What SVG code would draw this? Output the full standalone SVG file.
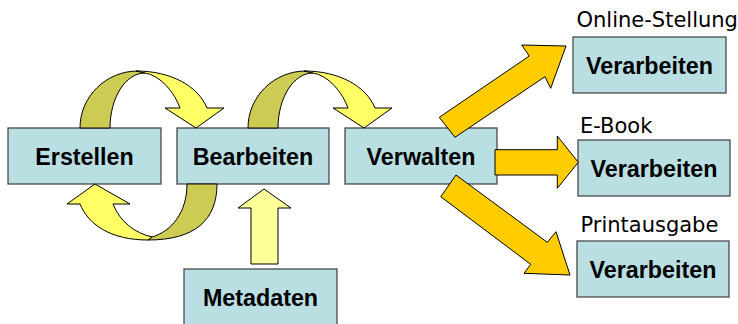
<svg xmlns="http://www.w3.org/2000/svg" width="738" height="324" viewBox="0 0 738 324">
<style>
.box{fill:#B9DFE2;stroke:#4A4A4A;stroke-width:1.3}
.lbl{font-family:"Liberation Sans",Arial,sans-serif;font-weight:bold;font-size:23.3px;fill:#000;text-anchor:middle}
.cap{font-family:"DejaVu Sans",Verdana,sans-serif;font-size:21px;fill:#000}
.dark{fill:#CCCC55;stroke:#000;stroke-width:1}
.yel{fill:#FFFF66;stroke:#000;stroke-width:1}
.lyel{fill:#FFFF99;stroke:#000;stroke-width:1}
.org{fill:#FFCC00;stroke:#000;stroke-width:1}
</style>
<rect width="738" height="324" fill="#fff"/>
<g id="erstellen"><rect class="box" x="8" y="128" width="153" height="56"/><text class="lbl" x="84.5" y="164.5">Erstellen</text></g>
<g id="bearbeiten"><rect class="box" x="177" y="128" width="152" height="56"/><text class="lbl" x="253" y="164.5">Bearbeiten</text></g>
<g id="verwalten"><rect class="box" x="345" y="128" width="152" height="56"/><text class="lbl" x="421" y="164.5">Verwalten</text></g>
<g id="metadaten"><rect class="box" x="184" y="269" width="153" height="56"/><text class="lbl" x="260.5" y="306">Metadaten</text></g>
<g id="online"><text class="cap" x="576.5" y="26.7">Online-Stellung</text><rect class="box" x="573" y="37" width="153" height="56"/><text class="lbl" x="649.5" y="73.5">Verarbeiten</text></g>
<g id="ebook"><text class="cap" x="580" y="133.3">E-Book</text><rect class="box" x="578" y="140" width="152" height="56"/><text class="lbl" x="654" y="176.8">Verarbeiten</text></g>
<g id="print"><text class="cap" x="580.5" y="232.3">Printausgabe</text><rect class="box" x="577" y="241" width="152" height="56"/><text class="lbl" x="653" y="277.8">Verarbeiten</text></g>
<g id="connectors">
<g id="loop1">
<path class="dark" d="M80,128 C80,96.5 106,71 138,71 L145,73 C125.7,73 110,97.6 110,128 Z"/>
<path class="yel" d="M136,71 C171,71 198,86 207,108 L224,108 L196,128 L165,108 L180,108 C174,92 161,76 145,73 Z"/>
</g>
<g id="loop2" transform="translate(168,0)">
<path class="dark" d="M80,128 C80,96.5 106,71 138,71 L145,73 C125.7,73 110,97.6 110,128 Z"/>
<path class="yel" d="M136,71 C171,71 198,86 207,108 L224,108 L196,128 L165,108 L180,108 C174,92 161,76 145,73 Z"/>
</g>
<g id="loop3">
<path class="dark" d="M217,184 C217,220 195,240 148,240 L152,237 C172,231 187,212 187,184 Z"/>
<path class="yel" d="M148,240 C110,240 88,224 80,204 L67,204 L95,184 L130,204 L113,204 C120,222 135,233 152,237 Z"/>
</g>
<polygon class="lyel" points="251,264 251,208 238,208 264,189 291,208 278,208 278,264"/>
<polygon class="org" points="439.3,117.3 529.3,56 521.7,45 566,46 550.7,88.3 545,76.7 455,137.3"/>
<polygon class="org" points="495,149.7 557.3,149.7 557.3,136 578.3,162.3 557.3,188.3 557.3,175 495,175"/>
<polygon class="org" points="456,175 547.3,242.3 556,231.7 570,275 524,273.3 530.7,264.3 440.7,196.7"/>
</g>
</svg>
